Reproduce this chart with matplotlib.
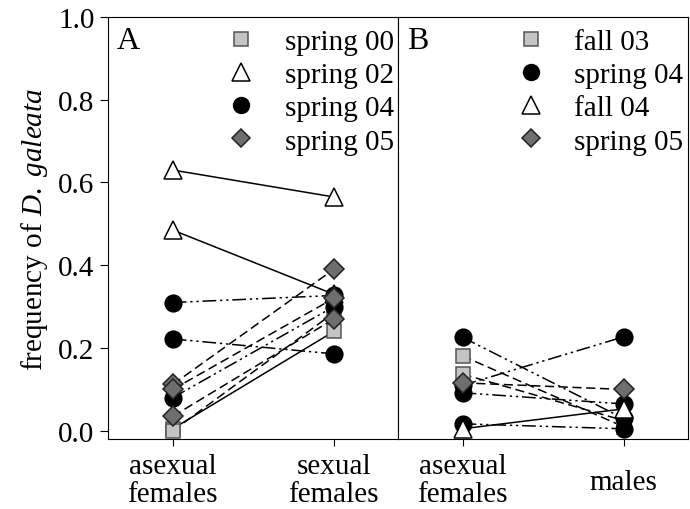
import matplotlib
matplotlib.use("Agg")
import matplotlib.pyplot as plt
import matplotlib.transforms as mtransforms
from matplotlib.lines import Line2D

plt.rcParams['font.family'] = ['Liberation Serif', 'DejaVu Serif']
plt.rcParams['mathtext.fontset'] = 'custom'
plt.rcParams['mathtext.rm'] = 'Liberation Serif'
plt.rcParams['mathtext.it'] = 'Liberation Serif:italic'

# panel A: asexual females -> sexual females
a_groups = ['spring 00', 'spring 02', 'spring 04', 'spring 05']
a_asex = {
    'spring 00': [0.005, 0.0],
    'spring 02': [0.63, 0.485],
    'spring 04': [0.31, 0.222, 0.08],
    'spring 05': [0.112, 0.10, 0.035],
}
a_sex = {
    'spring 00': [0.24, 0.285],
    'spring 02': [0.565, 0.33],
    'spring 04': [0.327, 0.186, 0.30],
    'spring 05': [0.39, 0.32, 0.27],
}
a_ticks = ['asexual\nfemales', 'sexual\nfemales']

# panel B: asexual females -> males
b_groups = ['fall 03', 'spring 04', 'fall 04', 'spring 05']
b_asex = {
    'fall 03': [0.181, 0.137],
    'spring 04': [0.226, 0.11, 0.092, 0.017],
    'fall 04': [0.005],
    'spring 05': [0.116],
}
b_males = {
    'fall 03': [0.01, 0.025],
    'spring 04': [0.03, 0.227, 0.065, 0.005],
    'fall 04': [0.053],
    'spring 05': [0.10],
}
b_ticks = ['asexual\nfemales', 'males']

dashdotdot = (0, (9, 2.5, 1.5, 2.5, 1.5, 2.5))
dashed = (0, (6, 3))

styles = {
    'spring 00': dict(marker='s', mfc='#c4c4c4', mec='#555555', ms=10, ls='-'),
    'fall 03': dict(marker='s', mfc='#c4c4c4', mec='#555555', ms=10, ls=dashed),
    'spring 02': dict(marker='^', mfc='white', mec='black', ms=13, ls='-'),
    'fall 04': dict(marker='^', mfc='white', mec='black', ms=13, ls='-'),
    'spring 04': dict(marker='o', mfc='black', mec='black', ms=12, ls=dashdotdot),
    'spring 05': dict(marker='D', mfc='#6e6e6e', mec='#222222', ms=10, ls=dashed),
}
# second spring 00 line is dashed in the original
a_override = {('spring 00', 1): dashed}

fig, (ax1, ax2) = plt.subplots(1, 2, figsize=(6.9, 5.1), dpi=100, sharey=True)
fig.subplots_adjust(left=0.157, right=0.997, top=0.965, bottom=0.137, wspace=0)

FS = 21


def draw(ax, groups, left, right, override):
    for g in groups:
        st = styles[g]
        for i in range(len(left[g])):
            ls = override.get((g, i), st['ls'])
            ax.plot([0, 1], [left[g][i], right[g][i]], color='black', lw=1.1,
                    linestyle=ls, marker=st['marker'], markerfacecolor=st['mfc'],
                    markeredgecolor=st['mec'], markersize=st['ms'],
                    markeredgewidth=1.1, zorder=3)
    handles = []
    for g in groups:
        st = styles[g]
        handles.append(Line2D([], [], ls='none', marker=st['marker'], markerfacecolor=st['mfc'],
                              markeredgecolor=st['mec'], markersize=st['ms'] * 0.95,
                              markeredgewidth=1.1))
    ax.legend(handles, groups, loc='upper right', bbox_to_anchor=(1.055, 1.02), frameon=False,
              fontsize=FS, handlelength=1.0, handletextpad=1.0, labelspacing=0.23,
              borderaxespad=0.3)


draw(ax1, a_groups, a_asex, a_sex, a_override)
draw(ax2, b_groups, b_asex, b_males, {})

for ax, labels in [(ax1, a_ticks), (ax2, b_ticks)]:
    ax.set_xlim(-0.4, 1.4)
    ax.set_xticks([0, 1])
    ax.set_xticklabels(labels, fontsize=FS, linespacing=1.12)
    ax.tick_params(axis='x', direction='out', length=5, pad=5)

ax1.set_ylim(-0.02, 1.0)
ax1.set_yticks([0.0, 0.2, 0.4, 0.6, 0.8, 1.0])
ax1.set_yticklabels(['0.0', '0.2', '0.4', '0.6', '0.8', '1.0'], fontsize=FS)
ax1.tick_params(axis='y', direction='out', length=6, pad=4)
ax2.tick_params(axis='y', left=False, labelleft=False)
ax1.set_ylabel(r'frequency of $\mathit{D.\ galeata}$', fontsize=FS, labelpad=6)

# single-line "males" sits centred against the two-line labels
males_lbl = ax2.get_xticklabels()[1]
males_lbl.set_transform(males_lbl.get_transform() +
                        mtransforms.ScaledTranslation(0, -16 / 100, fig.dpi_scale_trans))

ax1.text(0.03, 0.945, 'A', transform=ax1.transAxes, fontsize=23, va='center')
ax2.text(0.03, 0.945, 'B', transform=ax2.transAxes, fontsize=23, va='center')

fig.savefig('out.png', dpi=100)
